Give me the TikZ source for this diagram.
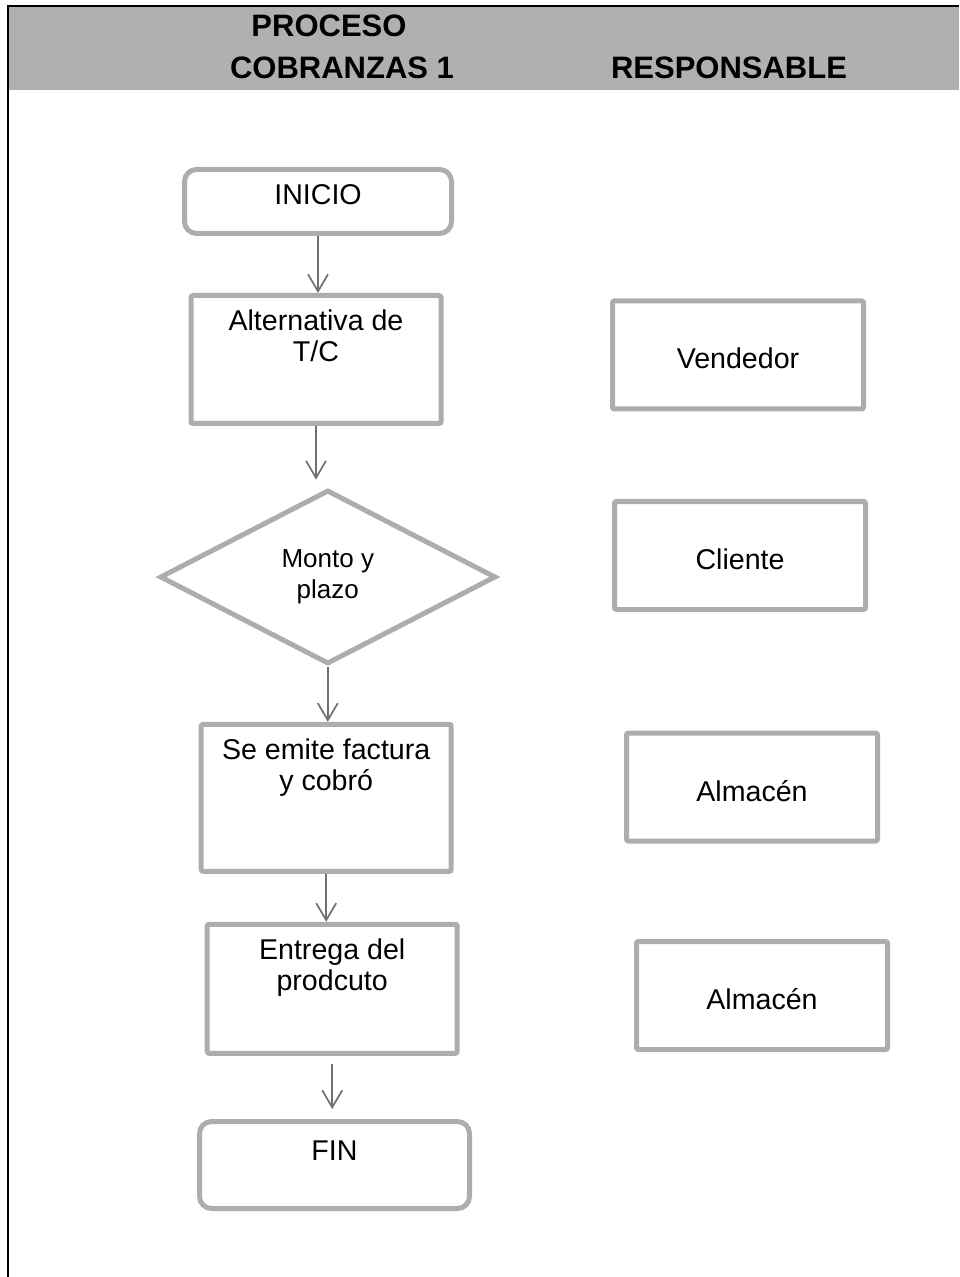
\documentclass[tikz,border=0pt]{standalone}
\usepackage{fontspec}
\setmainfont{Liberation Sans}
\usepackage{tikz}
\usetikzlibrary{arrows.meta,positioning,shapes.geometric}
\usepackage{xcolor}
\definecolor{BoxGray}{HTML}{ADADAD}
\definecolor{HeadGray}{HTML}{B0B0B0}
\definecolor{ArrowGray}{HTML}{707070}
\tikzset{
  termnode/.style={draw=BoxGray,line width=2.5pt,rounded corners=6pt,minimum width=133.5pt,minimum height=32pt,inner sep=0pt},
  flownode/.style={draw=BoxGray,line width=2.5pt,rounded corners=1pt,minimum width=125pt,inner sep=0pt},
  decnode/.style={draw=BoxGray,line width=2.5pt,diamond,minimum width=168pt,minimum height=87pt,inner sep=0pt,align=center,font=\fontsize{13}{15.5}\selectfont},
  respnode/.style={draw=BoxGray,line width=2.5pt,rounded corners=1pt,minimum width=125.5pt,minimum height=54pt,text height=14pt,text depth=0pt,font=\fontsize{14.3}{16}\selectfont},
  flowtext/.style={inner sep=0pt,align=center,font=\fontsize{14.3}{15.5}\selectfont},
  headtext/.style={anchor=base,font=\fontsize{15.5}{18}\selectfont\bfseries},
  flowarrow/.style={-{Straight Barb[length=8.5pt,width=10pt]},line width=0.85pt,draw=ArrowGray}
}
\begin{document}
\begin{tikzpicture}[x=0.5pt,y=-0.5pt]
\useasboundingbox (0,0) rectangle (959,1277);
\fill[HeadGray] (8,7) rectangle (959,90);
\draw[line width=1pt] (7.5,1277) -- (7.5,6) -- (959,6);
\node[headtext] (hdProceso) at (329,37) {PROCESO};
\node[headtext] (hdCobranzas) at (342,79) {COBRANZAS 1};
\node[headtext] (hdResp) at (729,79) {RESPONSABLE};
% process column
\node[termnode] (inicio) at (318,201.5) {};
\node[flowtext,below=8.5pt of inicio.north] (inicioText) {INICIO};
\node[flownode,minimum height=64pt] (alt) at (316,359.5) {};
\node[flowtext,below=8pt of alt.north] (altText) {Alternativa de\\T/C};
\node[decnode] (monto) at (327.8,577) {Monto y\\plazo};
\node[flownode,minimum height=73.5pt] (emite) at (326.2,797.8) {};
\node[flowtext,below=8.5pt of emite.north] (emiteText) {Se emite factura\\y cobró};
\node[flownode,minimum height=64.5pt] (entrega) at (332.2,988.8) {};
\node[flowtext,below=8.5pt of entrega.north] (entregaText) {Entrega del\\prodcuto};
\node[termnode,minimum width=135pt,minimum height=43.5pt] (fin) at (334.5,1165) {};
\node[flowtext,below=10.5pt of fin.north] (finText) {FIN};
% responsible column
\node[respnode] (vendedor) at (738,355) {Vendedor};
\node[respnode] (cliente) at (740,555.5) {Cliente};
\node[respnode] (almacenA) at (752,787) {Almacén};
\node[respnode] (almacenB) at (762,995.5) {Almacén};
\foreach \a/\b in {inicio/alt,monto/emite,emite/entrega}{\draw[flowarrow] (\a.south) -- (\a.south |- \b.north);}
\draw[flowarrow,shorten >=4pt] (alt.south) -- (alt.south |- monto.north);
\draw[flowarrow,shorten <=4pt,shorten >=5pt] (entrega.south) -- (entrega.south |- fin.north);
\end{tikzpicture}
\end{document}
